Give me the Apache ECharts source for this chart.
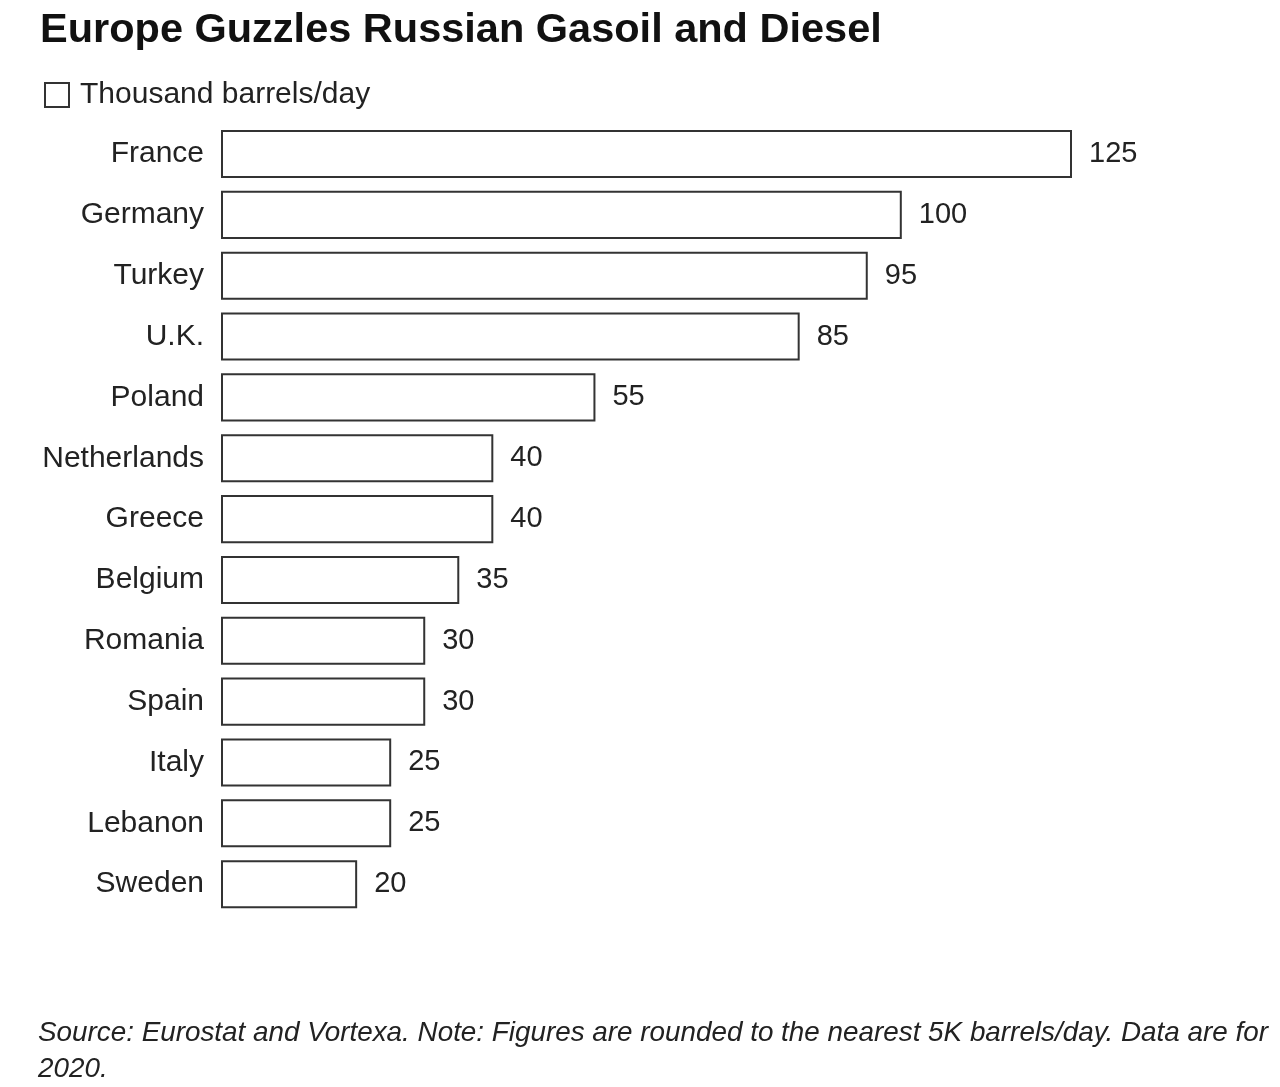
<!DOCTYPE html>
<html>
<head>
<meta charset="utf-8">
<script src="https://cdn.jsdelivr.net/npm/echarts@6/dist/echarts.min.js"></script>
<style>
html,body{margin:0;padding:0;background:#fff;}
#chart{width:1280px;height:1087px;}
</style>
</head>
<body>
<div id="chart"></div>
<script>
const categories = ["France","Germany","Turkey","U.K.","Poland","Netherlands","Greece","Belgium","Romania","Spain","Italy","Lebanon","Sweden"];
const values = [125,100,95,85,55,40,40,35,30,30,25,25,20];
const seriesName = "Thousand barrels/day";
const titleText = "Europe Guzzles Russian Gasoil and Diesel";
const noteLine1 = "Source: Eurostat and Vortexa. Note: Figures are rounded to the nearest 5K barrels/day. Data are for";
const noteLine2 = "2020.";

const chart = echarts.init(document.getElementById('chart'), null, {renderer:'canvas'});
const font = "'Liberation Sans', Arial, sans-serif";
chart.setOption({
  backgroundColor:'#fff',
  animation:false,
  title:{
    text:titleText, left:35, top:5,
    textStyle:{fontFamily:font, fontSize:41.5, fontWeight:'bold', color:'#111'}
  },
  legend:{
    left:39, top:75, itemWidth:24, itemHeight:24, itemGap:8,
    icon:'rect',
    textStyle:{fontFamily:font, fontSize:30, color:'#222', padding:[0,0,0,6]},
    data:[seriesName]
  },
  grid:{left:221, top:123.6, width:851, height:791, containLabel:false},
  xAxis:{type:'value', min:0, max:125, show:false},
  yAxis:{
    type:'category', data:categories, inverse:true,
    axisLine:{show:false}, axisTick:{show:false},
    axisLabel:{fontFamily:font, fontSize:30, color:'#222', margin:17}
  },
  series:[{
    name:seriesName, type:'bar', data:values, barCategoryGap:'21%',
    itemStyle:{color:'#fff', borderColor:'#333', borderWidth:2},
    label:{show:true, position:'right', distance:17, fontFamily:font, fontSize:29, color:'#222'}
  }],
  graphic:[
    {type:'text', left:38, top:1019, scaleX:0.994, style:{text:noteLine1, font:"italic 28px 'Liberation Sans', Arial, sans-serif", fill:'#222'}},
    {type:'text', left:38, top:1055, scaleX:0.994, style:{text:noteLine2, font:"italic 28px 'Liberation Sans', Arial, sans-serif", fill:'#222'}}
  ]
});
</script>
</body>
</html>
